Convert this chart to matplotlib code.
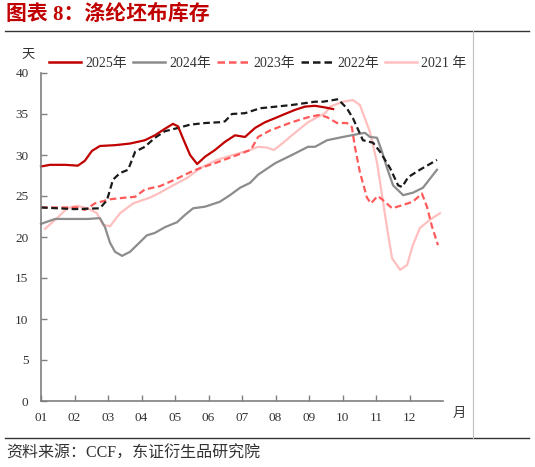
import matplotlib
matplotlib.use("Agg")
import matplotlib.pyplot as plt
from matplotlib.lines import Line2D

plt.rcParams['font.family'] = ['Liberation Serif', 'Noto Sans CJK SC']

# month position (1 = Jan) and inventory days
x_2025 = [1.0, 1.27, 1.72, 2.10, 2.31, 2.52, 2.76, 3.21, 3.66, 4.10, 4.40, 4.70, 4.94, 5.09,
          5.24, 5.45, 5.66, 5.90, 6.19, 6.49, 6.79, 7.09, 7.39, 7.69, 7.99, 8.28, 8.58,
          8.88, 9.18, 9.48, 9.72]
y_2025 = [28.6, 28.8, 28.8, 28.7, 29.3, 30.5, 31.1, 31.2, 31.4, 31.8, 32.4, 33.2, 33.8, 33.5,
          32.0, 30.0, 28.9, 29.8, 30.6, 31.6, 32.4, 32.2, 33.3, 34.0, 34.5, 35.0, 35.5,
          35.9, 36.0, 35.8, 35.6]

x_2024 = [1.0, 1.42, 1.9, 2.4, 2.76, 2.91, 3.06, 3.21, 3.42, 3.66, 3.96, 4.16, 4.40, 4.70,
          5.06, 5.30, 5.54, 5.90, 6.34, 6.64, 6.94, 7.24, 7.48, 7.99, 8.49, 8.97, 9.18,
          9.54, 10.01, 10.52, 10.67, 10.82, 11.03, 11.18, 11.33, 11.51, 11.81, 12.10,
          12.40, 12.82]
y_2024 = [21.6, 22.2, 22.2, 22.2, 22.3, 21.2, 19.3, 18.2, 17.7, 18.2, 19.4, 20.2, 20.5, 21.2,
          21.8, 22.7, 23.5, 23.7, 24.3, 25.1, 26.0, 26.6, 27.6, 29.0, 30.0, 31.0, 31.0,
          31.8, 32.2, 32.6, 32.7, 32.2, 32.1, 30.4, 28.4, 26.3, 25.1, 25.4,
          26.0, 28.2]

x_2023 = [1.0, 1.5, 2.07, 2.31, 2.61, 3.06, 3.51, 3.81, 4.10, 4.55, 5.00, 5.45, 5.75, 6.19,
          6.79, 7.24, 7.30, 7.48, 7.84, 8.49, 8.97, 9.33, 9.54, 9.84, 10.13, 10.28, 10.37,
          10.52, 10.73, 10.85, 11.05, 11.21, 11.48, 11.80, 12.10, 12.37, 12.52, 12.67, 12.85]
y_2023 = [23.6, 23.6, 23.6, 23.3, 24.1, 24.6, 24.8, 24.9, 25.8, 26.2, 27.0, 27.9, 28.4, 29.0,
          29.9, 30.6, 30.9, 32.2, 33.0, 34.0, 34.6, 34.9, 34.6, 33.9, 33.9, 33.4, 31.0,
          27.9, 24.8, 24.1, 25.0, 24.5, 23.5, 23.9, 24.3, 25.3, 23.7, 21.3, 19.0]

x_2022 = [1.0, 1.5, 2.0, 2.76, 2.97, 3.15, 3.36, 3.60, 3.81, 4.10, 4.40, 4.70, 5.09, 5.45,
          5.90, 6.34, 6.49, 6.70, 7.09, 7.54, 8.49, 9.18, 9.42, 9.87, 10.13, 10.31, 10.61,
          10.91, 11.12, 11.42, 11.66, 11.78, 11.96, 12.31, 12.82]
y_2022 = [23.6, 23.5, 23.4, 23.5, 24.5, 27.0, 27.8, 28.2, 30.4, 31.0, 32.1, 32.9, 33.3, 33.7,
          33.9, 34.0, 34.1, 35.0, 35.1, 35.7, 36.1, 36.5, 36.5, 36.8, 35.7, 34.5, 31.8,
          31.5, 30.4, 28.4, 26.3, 26.1, 27.3, 28.2, 29.4]

x_2021 = [1.12, 1.48, 1.78, 2.07, 2.40, 2.67, 2.85, 3.06, 3.36, 3.75, 4.25, 4.55, 4.94, 5.36,
          5.75, 6.25, 6.73, 7.24, 7.48, 7.75, 7.95, 8.20, 8.49, 8.97, 9.48, 9.63, 10.01,
          10.31, 10.52, 10.82, 11.03, 11.18, 11.33, 11.48, 11.72, 11.93, 12.10, 12.31,
          12.61, 12.91]
y_2021 = [21.0, 22.3, 23.5, 23.8, 23.5, 22.9, 21.5, 21.3, 22.9, 24.1, 24.8, 25.4, 26.3, 27.2,
          28.4, 29.4, 30.0, 30.6, 31.0, 30.9, 30.6, 31.4, 32.4, 34.0, 35.1, 35.9, 36.5,
          36.7, 36.1, 32.8, 29.1, 25.1, 21.1, 17.4, 16.0, 16.6, 19.0, 21.1,
          22.1, 22.9]

months = [1, 2, 3, 4, 5, 6, 7, 8, 9, 10, 11, 12]
month_labels = ['01', '02', '03', '04', '05', '06', '07', '08', '09', '10', '11', '12']
y_ticks = [0, 5, 10, 15, 20, 25, 30, 35, 40]

W, H = 535, 467
fig = plt.figure(figsize=(W / 100, H / 100), dpi=100)


def fx(px):
    return px / W


def fy(py):
    return 1 - py / H


ax = fig.add_axes([fx(41), fy(401), fx(443) - fx(41), fy(73) - fy(401)])

series = [
    (x_2025, y_2025, '#C00000', '-', '2025年'),
    (x_2024, y_2024, '#8C8C8C', '-', '2024年'),
    (x_2023, y_2023, '#FF5A5A', (0, (3, 1.6)), '2023年'),
    (x_2022, y_2022, '#1A1A1A', (0, (3, 1.6)), '2022年'),
    (x_2021, y_2021, '#FFBFBF', '-', '2021 年'),
]
# draw 2021 first so it sits below the others
for xs, ys, c, ls, lab in [series[4], series[1], series[2], series[3], series[0]]:
    ax.plot(xs, ys, color=c, linestyle=ls, linewidth=1.6, clip_on=False)

ax.set_xlim(1, 13)
ax.set_ylim(0, 40)
ax.set_xticks(months)
ax.set_xticklabels(month_labels)
ax.set_yticks(y_ticks)
for s in ['top', 'right']:
    ax.spines[s].set_visible(False)
for s in ['left', 'bottom']:
    ax.spines[s].set_color('#7F7F7F')
    ax.spines[s].set_linewidth(1.2)
ax.tick_params(direction='in', length=4, width=1.0, color='#7F7F7F',
               labelsize=9.5, labelcolor='#333333')
ax.tick_params(axis='x', pad=8)
ax.tick_params(axis='y', pad=9)

handles = [Line2D([], [], color=c, linestyle=ls, linewidth=1.8) for _, _, c, ls, _ in series]
labels = [lab for *_, lab in series]
fig.legend(handles, labels, ncol=5, loc='center left', bbox_to_anchor=(fx(49), fy(63)),
           frameon=False, fontsize=10, handlelength=2.3, handletextpad=0.3,
           columnspacing=0.45, borderaxespad=0, borderpad=0, labelcolor='#333333')

fig.text(fx(28), fy(55), '天', fontsize=9.5, color='#333333', ha='center', va='center')
fig.text(fx(459), fy(414), '月', fontsize=9.5, color='#333333', ha='center', va='center')

fig.text(fx(6), fy(15), '图表 8：涤纶坯布库存', fontsize=15, fontweight='bold',
         color='#C00000', ha='left', va='center')
fig.text(fx(6), fy(454), '资料来源：CCF，东证衍生品研究院', fontsize=11.5, color='#333333',
         ha='left', va='center')

# frame lines around the chart block
fig.add_artist(Line2D([fx(5), fx(529)], [fy(31), fy(31)], color='#333333', linewidth=1.0))
fig.add_artist(Line2D([fx(5), fx(529)], [fy(438), fy(438)], color='#333333', linewidth=1.0))
fig.add_artist(Line2D([fx(473), fx(473)], [fy(31), fy(438)], color='#BFBFBF', linewidth=0.8))

fig.savefig('out.png', dpi=100)
